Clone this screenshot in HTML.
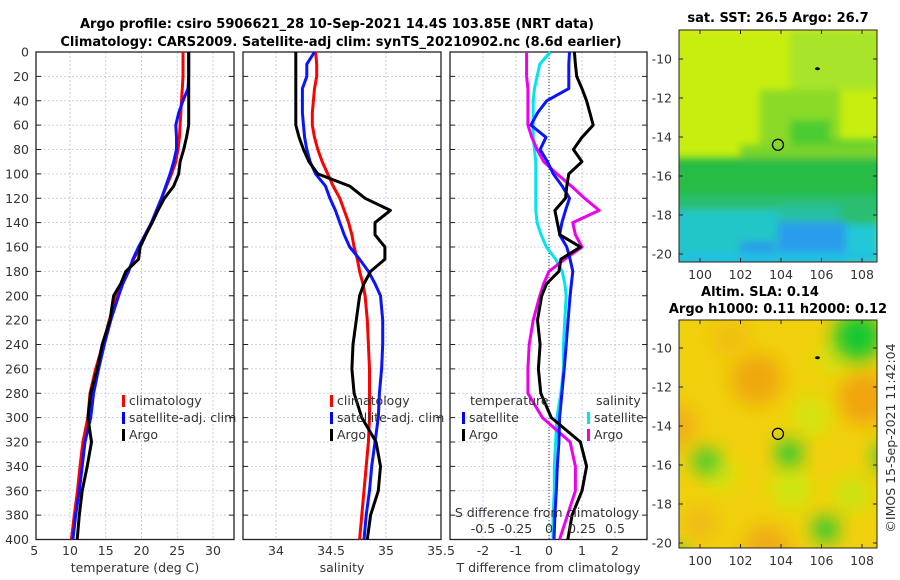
<!DOCTYPE html>
<html><head><meta charset="utf-8">
<style>
html,body{margin:0;padding:0;background:#fff;}
svg{display:block;font-family:"DejaVu Sans","Liberation Sans",sans-serif;}
.t{font-size:12.5px;fill:#333;}
.b{font-size:13px;font-weight:bold;fill:#000;}
</style></head><body>
<svg id="fig" width="900" height="580" viewBox="0 0 900 580">
<defs>
<clipPath id="cm1"><rect x="679" y="30" width="198" height="232"/></clipPath>
<clipPath id="cm2"><rect x="679" y="320" width="198" height="228"/></clipPath>
<filter id="bl" x="-50%" y="-50%" width="200%" height="200%"><feGaussianBlur stdDeviation="9"/></filter>
<filter id="bl3" x="-50%" y="-50%" width="200%" height="200%"><feGaussianBlur stdDeviation="4"/></filter>
</defs>
<text class="b" x="337" y="28" text-anchor="middle">Argo profile: csiro 5906621_28 10-Sep-2021 14.4S 103.85E (NRT data)</text>
<text class="b" x="341" y="46" text-anchor="middle">Climatology: CARS2009. Satellite-adj clim: synTS_20210902.nc (8.6d earlier)</text>
<g id="plots"></g>
<g id="maps"></g>
</svg>
<script>
const NS='http://www.w3.org/2000/svg';
const depths=[0,10,20,30,40,50,60,70,80,90,100,110,120,130,140,150,160,170,180,190,200,220,240,260,280,300,320,340,360,380,400];
const climT=[25.8,25.8,25.8,25.7,25.6,25.5,25.4,25.3,25.1,24.8,24.2,23.5,22.8,22.1,21.4,20.6,19.8,18.9,18.1,17.3,16.5,15.5,14.6,13.6,12.8,12.5,11.8,11.4,11.05,10.6,10.2];
const satT=[26.6,26.6,26.6,26.5,25.8,25.2,24.8,24.9,24.9,24.5,24.0,23.4,22.8,22.1,21.4,20.5,19.6,18.8,18.2,17.4,16.8,15.7,14.8,14.0,13.3,12.9,12.1,11.7,11.3,10.8,10.4];
const argoT=[26.6,26.6,26.6,26.6,26.6,26.6,26.6,26.3,25.9,25.4,25.2,24.5,23.2,22.3,21.5,20.6,19.8,19.6,17.8,17.1,16.1,15.6,14.5,13.8,12.9,12.5,13.0,12.4,11.7,11.3,11.0];
const climS=[34.36,34.37,34.37,34.35,34.34,34.33,34.33,34.35,34.38,34.42,34.47,34.52,34.58,34.62,34.66,34.69,34.71,34.74,34.76,34.79,34.81,34.83,34.84,34.85,34.85,34.85,34.84,34.82,34.8,34.78,34.76];
const satS=[34.35,34.28,34.28,34.24,34.24,34.24,34.25,34.26,34.28,34.31,34.36,34.45,34.49,34.54,34.58,34.62,34.67,34.76,34.84,34.9,34.95,34.97,34.97,34.96,34.94,34.93,34.9,34.87,34.85,34.82,34.8];
const argoS=[34.18,34.18,34.18,34.18,34.18,34.18,34.18,34.21,34.25,34.3,34.38,34.67,34.81,35.04,34.9,34.9,34.99,34.99,34.86,34.8,34.76,34.73,34.7,34.69,34.71,34.78,34.91,34.95,34.93,34.86,34.83];
const dTsat=[0.62,0.6,0.6,0.6,-0.07,-0.35,-0.55,-0.09,-0.27,-0.05,0.13,0.4,0.62,0.5,0.39,0.32,0.54,0.64,0.72,0.68,0.64,0.58,0.52,0.46,0.39,0.32,0.3,0.25,0.22,0.18,0.15];
const dTargo=[0.77,0.8,0.84,1.0,1.14,1.24,1.34,1.0,0.74,1.0,0.6,0.54,0.5,0.18,0.25,0.33,0.95,0.36,0.3,-0.07,-0.22,-0.35,-0.27,-0.32,-0.25,0.07,0.95,1.14,1.0,0.7,0.57];
const dSsat=[0.01,-0.07,-0.09,-0.11,-0.12,-0.12,-0.12,-0.12,-0.11,-0.1,-0.1,-0.1,-0.1,-0.1,-0.09,-0.06,-0.02,0.05,0.1,0.12,0.13,0.12,0.11,0.11,0.09,0.06,0.05,0.04,0.04,0.03,0.03];
const dSargo=[-0.17,-0.17,-0.17,-0.16,-0.16,-0.16,-0.16,-0.13,-0.09,-0.04,0.06,0.17,0.27,0.38,0.18,0.2,0.25,0.12,0.0,-0.04,-0.07,-0.12,-0.15,-0.16,-0.16,-0.05,0.16,0.2,0.2,0.14,0.08];
const yTicks=[0,20,40,60,80,100,120,140,160,180,200,220,240,260,280,300,320,340,360,380,400];
const tTicks=[5,10,15,20,25,30];
const sTicks=[34,34.5,35,35.5];
const dTicks=[-2,-1,0,1,2];
const dsTicks=[-0.5,-0.25,0,0.25,0.5];
const latTicks=[-10,-12,-14,-16,-18,-20];
const lonTicks=[100,102,104,106,108];

const Y0=52,Y1=539.5;
const yD=d=>Y0+d*(Y1-Y0)/400;
const xT=v=>70+(v-10)*7.15;
const xS=v=>276+(v-34)*110;
const xD=v=>549+v*33;
const xDS=v=>549+v*132;
const P=document.getElementById('plots');
function el(tag,attrs,parent,text){const e=document.createElementNS(NS,tag);for(const k in attrs)e.setAttribute(k,attrs[k]);if(text!==undefined)e.textContent=text;(parent||P).appendChild(e);return e;}

function panel(x0,x1,xs,xf,name,xlab){
  const g=el('g',{});
  
  
  for(const d of yTicks){const y=yD(d);el('line',{x1:x0,x2:x1,y1:y,y2:y,stroke:'#b8c4e6','stroke-width':0.8,'stroke-dasharray':'2,2'},g);
    el('line',{x1:x0,x2:x0+5,y1:y,y2:y,stroke:'#222'},g);el('line',{x1:x1-5,x2:x1,y1:y,y2:y,stroke:'#222'},g);}
  for(const v of xs){const x=xf(v);if(x>x0+1&&x<x1-1)el('line',{x1:x,x2:x,y1:Y0,y2:Y1,stroke:'#b8c4e6','stroke-width':0.8,'stroke-dasharray':'2,2'},g);
    const t=el('text',{class:'t',x:x,y:555,'text-anchor':'middle'},g,String(v));
    }
  el('rect',{x:x0,y:Y0,width:x1-x0,height:Y1-Y0,fill:'none',stroke:'#222','stroke-width':1.3},g);
  const lt=el('text',{class:'t',x:(x0+x1)/2,y:572,'text-anchor':'middle','font-size':'13.5px'},g,xlab);
  
  return g;
}
function line(vals,xf,col,name,g){
  const pts=vals.map((v,i)=>xf(v).toFixed(1)+','+yD(depths[i]).toFixed(1)).join(' ');
  const p=el('polyline',{points:pts,fill:'none',stroke:col,'stroke-width':3,'stroke-linejoin':'round'},g);
  
}
function legend(g,x,y,items){
  items.forEach((it,i)=>{const yy=y+i*17;
    el('rect',{x:x,y:yy-10,width:3,height:12,fill:it[1]},g);
    const t=el('text',{class:'t',x:x+7,y:yy,'font-size':'13.5px',fill:'#111'},g,it[0]);
    });
}
// panel 1
const g1=panel(36,234,tTicks,xT,'temperature-panel','temperature (deg C)');
yTicks.forEach(d=>{const t=el('text',{class:'t',x:29,y:yD(d)+4.5,'text-anchor':'end'},g1,String(d));});
line(climT,xT,'#ff0000','temp-climatology-line',g1);
line(satT,xT,'#0a14ff','temp-satellite-line',g1);
line(argoT,xT,'#000','temp-argo-line',g1);
legend(g1,122,405,[['climatology','#f00'],['satellite-adj. clim','#00f'],['Argo','#000']]);
// panel 2
const g2=panel(243,441,sTicks,xS,'salinity-panel','salinity');
line(climS,xS,'#ff0000','sal-climatology-line',g2);
line(satS,xS,'#0a14ff','sal-satellite-line',g2);
line(argoS,xS,'#000','sal-argo-line',g2);
legend(g2,330,405,[['climatology','#f00'],['satellite-adj. clim','#00f'],['Argo','#000']]);
// panel 3
const g3=panel(450,647,dTicks,xD,'difference-panel','T difference from climatology');
el('line',{x1:549,x2:549,y1:Y0,y2:Y1,stroke:'#333','stroke-width':1,'stroke-dasharray':'1,2'},g3);
line(dSsat,xDS,'#00e5ee','sal-diff-satellite-line',g3);
line(dSargo,xDS,'#ee00ee','sal-diff-argo-line',g3);
line(dTsat,xD,'#0a14ff','temp-diff-satellite-line',g3);
line(dTargo,xD,'#000','temp-diff-argo-line',g3);
el('text',{class:'t',x:470,y:405,'font-size':'13.5px',fill:'#111'},g3,'temperature');
el('text',{class:'t',x:596,y:405,'font-size':'13.5px',fill:'#111'},g3,'salinity');
legend(g3,462,422,[['satellite','#00f'],['Argo','#000']]);
legend(g3,587,422,[['satellite','#00e5ee'],['Argo','#e0e']]);
el('text',{class:'t',x:547,y:517,'text-anchor':'middle','font-size':'13.5px',fill:'#111'},g3,'S difference from climatology');
dsTicks.forEach(v=>{const t=el('text',{class:'t',x:xDS(v),y:533,'text-anchor':'middle',fill:'#111'},g3,String(v));});

// maps
const M=document.getElementById('maps');
const lonX=v=>700+(v-100)*20.25;
const lat1=v=>59+(-10-v)*19.5;
const lat2=v=>348+(-10-v)*19.5;
function mapAxes(top,bot,latf,name){
  const g=el('g',{},M);
  latTicks.forEach(v=>{const y=latf(v);el('line',{x1:679,x2:683,y1:y,y2:y,stroke:'#222'},g);el('line',{x1:873,x2:877,y1:y,y2:y,stroke:'#222'},g);
    el('text',{class:'t',x:672,y:y+4.5,'text-anchor':'end'},g,String(v));});
  lonTicks.forEach(v=>{const x=lonX(v);el('line',{x1:x,x2:x,y1:bot-4,y2:bot,stroke:'#222'},g);el('line',{x1:x,x2:x,y1:top,y2:top+4,stroke:'#222'},g);
    el('text',{class:'t',x:x,y:bot+17,'text-anchor':'middle'},g,String(v));});
  el('rect',{x:679,y:top,width:198,height:bot-top,fill:'none',stroke:'#222','stroke-width':1},g);
}
// map 1 (SST)
const m1=el('g',{'clip-path':'url(#cm1)'},M);

el('rect',{x:679,y:30,width:198,height:232,fill:'#c8ee10'},m1);
const s1=el('g',{filter:'url(#bl3)'},m1);
el('rect',{x:670,y:22,width:220,height:10,fill:'#dce61c'},s1);
el('rect',{x:790,y:30,width:90,height:60,fill:'#a8e42a'},s1);
el('rect',{x:760,y:90,width:80,height:70,fill:'#8ada28'},s1);
el('rect',{x:790,y:120,width:40,height:40,fill:'#4ccc30'},s1);
el('rect',{x:820,y:140,width:60,height:20,fill:'#50cc30'},s1);
el('rect',{x:740,y:145,width:140,height:15,fill:'#7ad42a'},s1);
el('rect',{x:670,y:158,width:220,height:45,fill:'#28bc44'},s1);
el('rect',{x:670,y:195,width:220,height:20,fill:'#2cbe70'},s1);
el('rect',{x:670,y:210,width:110,height:60,fill:'#24c6c8'},s1);
el('rect',{x:780,y:205,width:60,height:20,fill:'#28c0a0'},s1);
el('rect',{x:840,y:200,width:40,height:25,fill:'#2cbe70'},s1);
el('rect',{x:840,y:225,width:40,height:40,fill:'#20c8d8'},s1);
el('rect',{x:778,y:222,width:68,height:45,fill:'#2c9cec'},s1);
el('rect',{x:740,y:242,width:35,height:25,fill:'#2c98ea'},s1);
el('rect',{x:679,y:252,width:198,height:12,fill:'#22c0e0'},s1);
el('circle',{cx:lonX(103.85),cy:lat1(-14.4),r:5.5,fill:'none',stroke:'#000','stroke-width':1.3},M);
el('ellipse',{cx:lonX(105.8),cy:lat1(-10.5),rx:2.5,ry:1.5,fill:'#000'},M);
mapAxes(30,262,lat1,'sst-map-axes');
el('text',{class:'b',x:778,y:22,'text-anchor':'middle'},M,'sat. SST: 26.5 Argo: 26.7');
// map 2 (SLA)
const m2=el('g',{'clip-path':'url(#cm2)'},M);

el('rect',{x:679,y:320,width:198,height:228,fill:'#f0d00c'},m2);
const blobs=[[102.8,-11.6,26,'#f0a810'],[108.1,-12.6,26,'#f0a410'],[98.8,-14,22,'#f0b014'],[103.3,-20.3,24,'#f0ac14'],[100,-19,18,'#f0bc14'],[101.5,-9.5,20,'#f0c010'],[105.5,-13.5,20,'#d4e40c'],[104.5,-17.2,20,'#cce80c'],[107.5,-17.5,18,'#c8e40c'],[101,-16.5,16,'#d0e40c'],[106.5,-10.5,16,'#d8e00c'],[107.8,-9.4,24,'#18c830'],[104.4,-15.4,13,'#24c834'],[100.3,-15.8,13,'#34c834'],[106.2,-19.3,13,'#20c834'],[109.3,-15.6,15,'#3cc834'],[98.8,-20.6,10,'#48c834']];
blobs.forEach(b=>el('circle',{cx:lonX(b[0]),cy:lat2(b[1]),r:b[2],fill:b[3],filter:'url(#bl)'},m2));
el('circle',{cx:lonX(103.85),cy:lat2(-14.4),r:5.5,fill:'none',stroke:'#000','stroke-width':1.3},M);
el('ellipse',{cx:lonX(105.8),cy:lat2(-10.5),rx:2.5,ry:1.5,fill:'#000'},M);
mapAxes(320,548,lat2,'sla-map-axes');
el('text',{class:'b',x:760,y:296,'text-anchor':'middle'},M,'Altim. SLA: 0.14');
el('text',{class:'b',x:778,y:313,'text-anchor':'middle'},M,'Argo h1000: 0.11 h2000: 0.12');
const cp=el('text',{class:'t',x:0,y:0,'text-anchor':'middle',transform:'translate(895,438) rotate(-90)','font-size':'13px',fill:'#111'},M,'©IMOS 15-Sep-2021 11:42:04');

</script>
</body></html>
